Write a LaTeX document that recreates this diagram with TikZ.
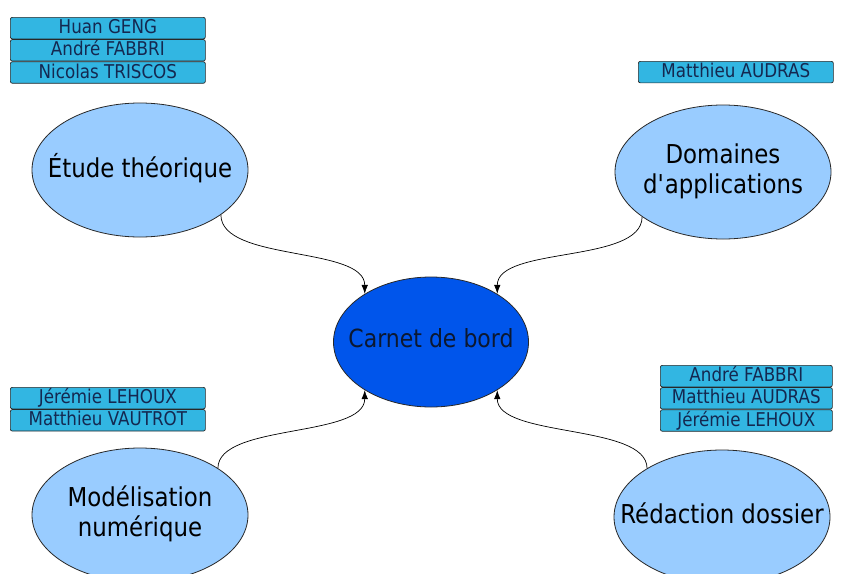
\documentclass[tikz,border=0pt]{standalone}
\usepackage{fontspec}
\setmainfont{DejaVu Sans}[FakeStretch=0.88]
\usetikzlibrary{shapes.geometric,positioning,arrows.meta}

\definecolor{bleuclair}{RGB}{153,204,255}
\definecolor{bleufonce}{RGB}{0,85,235}
\definecolor{cyanboite}{RGB}{50,182,226}
\definecolor{encre}{RGB}{20,40,80}
\definecolor{bord}{RGB}{40,40,40}

% texte centré qui ne change pas la taille de l'ellipse
\newcommand{\textebulle}[1]{\makebox[0pt]{\begin{tabular}{@{}c@{}}#1\end{tabular}}}

\tikzset{
  bulle/.style={ellipse, draw=bord, line width=0.8pt, fill=bleuclair, inner sep=0pt,
    minimum width=216pt, minimum height=134pt, font=\fontsize{26}{30}\selectfont},
  moyeu/.style={ellipse, draw=bord, line width=0.8pt, fill=bleufonce, inner sep=0pt,
    minimum width=195pt, minimum height=130pt, text=encre!60!black,
    font=\fontsize{25}{29}\selectfont},
  nom/.style={draw=bord, line width=0.7pt, fill=cyanboite, rounded corners=2pt,
    inner sep=0pt, minimum width=195pt, minimum height=21.5pt, text=encre,
    text height=14pt, text depth=3pt, font=\fontsize{19}{21}\selectfont},
  fleche/.style={-{Latex[length=9pt,width=6.5pt]}, line width=0.7pt}
}

\begin{document}
\begin{tikzpicture}[x=1pt, y=-1pt]
    \useasboundingbox (0,0) rectangle (845,573);
    \clip (0,0) rectangle (845,573);
    \fill[white] (0,0) rectangle (845,573);

    % les bulles
    \node[moyeu] (carnet) at (431,342) {\textebulle{Carnet de bord}};
    \node[bulle] (etude) at (140,170) {\textebulle{Étude théorique}};
    \node[bulle] (domaines) at (723,172) {\textebulle{Domaines\\d\textquotesingle applications}};
    \node[bulle] (modelisation) at (140,515) {\textebulle{Modélisation\\numérique}};
    \node[bulle] (redaction) at (722,517) {\textebulle{Rédaction dossier}};

    % les noms
    \node[nom, anchor=north west] (geng) at (10,17) {Huan GENG};
    \node[nom, below=0pt of geng] (fabbriA) {André FABBRI};
    \node[nom, below=0pt of fabbriA] (triscos) {Nicolas TRISCOS};

    \node[nom, anchor=north west] (audrasA) at (638,61) {Matthieu AUDRAS};

    \node[nom, anchor=north west] (lehouxA) at (10,387) {Jérémie LEHOUX};
    \node[nom, below=0pt of lehouxA] (vautrot) {Matthieu VAUTROT};

    \node[nom, minimum width=172pt, anchor=north west] (fabbriB) at (660,365) {André FABBRI};
    \node[nom, minimum width=172pt, below=0pt of fabbriB] (audrasB) {Matthieu AUDRAS};
    \node[nom, minimum width=172pt, below=0pt of audrasB] (lehouxB) {Jérémie LEHOUX};

    % les flèches
    \draw[fleche] (etude.-29) .. controls +(0,47) and +(0,-48) .. (carnet.144);
    \draw[fleche] (domaines.-151) .. controls +(0,47) and +(0,-48) .. (carnet.36);
    \draw[fleche] (modelisation.31) .. controls +(0,-45) and +(0,48) .. (carnet.-144);
    \draw[fleche] (redaction.147) .. controls +(0,-45) and +(0,48) .. (carnet.-36);
\end{tikzpicture}
\end{document}
